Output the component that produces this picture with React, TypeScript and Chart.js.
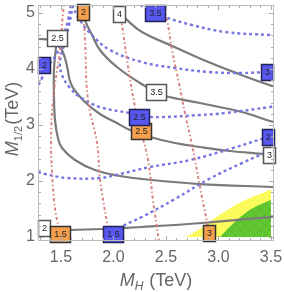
import React, { useEffect, useRef } from "react";
import { Chart, registerables } from "chart.js";
Chart.register(...registerables);

const X_MIN = 1.281, X_MAX = 3.529, Y_MIN = 0.929, Y_MAX = 5.143;

const xTickValues = [1.5, 2.0, 2.5, 3.0, 3.5];
const xTickLabels = ["1.5", "2.0", "2.5", "3.0", "3.5"];
const yTickValues = [1, 2, 3, 4, 5];
const yTickLabels = ["1", "2", "3", "4", "5"];

type P = [number, number];

// gray solid contours
const gray2: P[] = [[1.281, 1.14], [1.395, 1.125], [1.586, 1.125], [1.9, 1.143], [2.271, 1.179], [2.843, 1.25], [3.49, 1.357], [3.529, 1.366]];
const gray25: P[] = [[1.462, 4.554], [1.452, 4.393], [1.433, 3.982], [1.433, 3.536], [1.443, 3.089], [1.471, 2.768], [1.51, 2.589], [1.633, 2.375], [1.824, 2.196], [2.062, 2.089], [2.271, 2.036], [2.824, 1.946], [3.51, 1.893], [3.529, 1.89]];
const gray3: P[] = [[1.281, 4.536], [1.395, 4.518], [1.471, 4.446], [1.519, 4.3], [1.557, 4.054], [1.6, 3.714], [1.729, 3.411], [1.871, 3.196], [2.014, 3.054], [2.157, 2.911], [2.348, 2.786], [2.586, 2.679], [2.824, 2.607], [3.11, 2.536], [3.443, 2.482], [3.529, 2.464]];
const gray35: P[] = [[1.7, 5.143], [1.729, 4.875], [1.795, 4.61], [1.871, 4.34], [2.033, 4.036], [2.252, 3.75], [2.405, 3.59], [2.49, 3.518], [2.824, 3.393], [3.224, 3.232], [3.49, 3.071], [3.529, 3.054]];
const gray4: P[] = [[1.995, 5.143], [2.05, 5.02], [2.12, 4.89], [2.271, 4.66], [2.586, 4.39], [2.91, 4.12], [3.224, 3.89], [3.49, 3.71], [3.529, 3.69]];

// red dash-dot contours
const red15: P[] = [[1.529, 5.143], [1.519, 5.0], [1.49, 4.339], [1.424, 3.446], [1.405, 2.679], [1.414, 2.196], [1.433, 1.661], [1.462, 1.304], [1.481, 1.161], [1.5, 0.929]];
const red2: P[] = [[1.71, 5.143], [1.729, 4.518], [1.757, 3.446], [1.843, 2.679], [1.871, 2.036], [1.938, 1.25], [1.967, 0.929]];
const red25: P[] = [[2.043, 5.143], [2.081, 4.786], [2.129, 4.161], [2.205, 3.321], [2.262, 2.893], [2.329, 2.375], [2.376, 1.661], [2.433, 0.929]];
const red3: P[] = [[2.462, 5.143], [2.51, 4.875], [2.557, 4.339], [2.624, 3.75], [2.681, 3.214], [2.748, 2.643], [2.824, 1.893], [2.89, 1.268], [2.919, 0.929]];

// blue dotted contours
const blue2a: P[] = [[1.595, 5.143], [1.567, 4.875], [1.519, 4.571], [1.452, 4.25], [1.376, 4.054], [1.319, 3.839], [1.281, 3.696]];
const blue2b: P[] = [[1.281, 2.161], [1.348, 2.125], [1.557, 2.054], [1.871, 2.054], [2.062, 2.125], [2.348, 2.25], [2.729, 2.375], [3.138, 2.589], [3.443, 2.768], [3.529, 2.804]];
const blue25: P[] = [[1.614, 5.143], [1.576, 4.786], [1.529, 4.429], [1.49, 4.125], [1.51, 3.893], [1.586, 3.661], [1.681, 3.5], [1.871, 3.321], [2.157, 3.214], [2.348, 3.143], [2.824, 3.179], [3.062, 3.214], [3.49, 3.321], [3.529, 3.339]];
const blue3: P[] = [[1.605, 5.143], [1.662, 4.929], [1.776, 4.643], [1.967, 4.339], [2.271, 4.125], [2.586, 4.018], [2.91, 3.946], [3.224, 3.929], [3.462, 3.946], [3.529, 3.946]];
const blue35: P[] = [[2.252, 5.143], [2.395, 5.018], [2.49, 4.929], [2.748, 4.786], [3.062, 4.661], [3.49, 4.607], [3.529, 4.607]];
const blue15: P[] = [[1.919, 0.929], [1.995, 1.054], [2.09, 1.196], [2.271, 1.357], [2.586, 1.679], [2.91, 2.036], [3.224, 2.321], [3.529, 2.571]];

// shaded regions (upper edges, filled down to M1/2 = 1)
const yellowEdge: P[] = [[2.69, 1.0], [2.83, 1.15], [2.99, 1.37], [3.23, 1.64], [3.5, 1.85]];
const greenEdge: P[] = [[3.014, 1.0], [3.176, 1.304], [3.329, 1.518], [3.5, 1.661]];

// contour labels
type L = { x: number; y: number; t: string };
const grayLabels: L[] = [
  { x: 1.338, y: 1.16, t: "2" },
  { x: 1.462, y: 4.554, t: "2.5" },
  { x: 2.057, y: 4.99, t: "4" },
  { x: 2.405, y: 3.589, t: "3.5" },
  { x: 3.481, y: 2.464, t: "3" },
];
const redLabels: L[] = [
  { x: 1.71, y: 5.018, t: "2" },
  { x: 2.262, y: 2.893, t: "2.5" },
  { x: 1.49, y: 1.054, t: "1.5" },
  { x: 2.91, y: 1.071, t: "3" },
];
const blueLabels: L[] = [
  { x: 1.338, y: 4.071, t: "2" },
  { x: 2.395, y: 5.0, t: "3.5" },
  { x: 2.243, y: 3.143, t: "2.5" },
  { x: 3.462, y: 3.946, t: "3" },
  { x: 3.471, y: 2.786, t: "2" },
  { x: 1.995, y: 1.054, t: "1.5" },
];

const FONT = '"Liberation Sans", Arial, sans-serif';

function makeHatch(): CanvasPattern | string {
  const c = document.createElement("canvas");
  c.width = 10; c.height = 10;
  const g = c.getContext("2d");
  if (!g) return "#62c832";
  g.fillStyle = "#62c832";
  g.fillRect(0, 0, 10, 10);
  g.strokeStyle = "rgba(60,150,30,0.35)";
  g.lineWidth = 0.7;
  g.beginPath();
  g.moveTo(0, 0); g.lineTo(10, 10);
  g.moveTo(10, 0); g.lineTo(0, 10);
  g.stroke();
  return g.createPattern(c, "repeat") || "#62c832";
}

const toXY = (d: P[]) => d.map(([x, y]) => ({ x, y }));

function lineDs(d: P[], color: string, width: number, dash: number[], order: number) {
  return {
    data: toXY(d),
    showLine: true,
    borderColor: color,
    borderWidth: width,
    borderDash: dash,
    borderCapStyle: "butt",
    pointRadius: 0,
    tension: 0.4,
    fill: false,
    order,
  } as any;
}

const decorPlugin = {
  id: "decor",
  afterDatasetsDraw(chart: any) {
    const ctx: CanvasRenderingContext2D = chart.ctx;
    const xs = chart.scales.x, ys = chart.scales.y;
    const box = (l: L, fill: string, stroke: string) => {
      const px = xs.getPixelForValue(l.x), py = ys.getPixelForValue(l.y);
      ctx.save();
      ctx.font = `9px ${FONT}`;
      const tw = ctx.measureText(l.t).width;
      const w = Math.round(tw + 7), h = 16;
      const x0 = Math.round(px - w / 2) + 0.5, y0 = Math.round(py - h / 2) + 0.5;
      ctx.fillStyle = fill;
      ctx.fillRect(x0, y0, w, h);
      ctx.strokeStyle = stroke;
      ctx.lineWidth = 1.5;
      ctx.strokeRect(x0, y0, w, h);
      ctx.fillStyle = "#222";
      ctx.textAlign = "center";
      ctx.textBaseline = "middle";
      ctx.fillText(l.t, x0 + w / 2, y0 + h / 2 + 0.5);
      ctx.restore();
    };
    grayLabels.forEach((l) => box(l, "#ffffff", "#555555"));
    redLabels.forEach((l) => box(l, "#f5a04f", "#333333"));
    blueLabels.forEach((l) => box(l, "#5858f0", "#222255"));
  },
  afterDraw(chart: any) {
    const ctx: CanvasRenderingContext2D = chart.ctx;
    const a = chart.chartArea;
    const xs = chart.scales.x, ys = chart.scales.y;
    ctx.save();
    ctx.strokeStyle = "#aaaaaa";
    ctx.lineWidth = 1;
    ctx.beginPath();
    for (let i = 13; i <= 35; i++) {
      const v = i / 10;
      const px = Math.round(xs.getPixelForValue(v)) + 0.5;
      const len = i % 5 === 0 ? 5 : 3;
      ctx.moveTo(px, a.bottom); ctx.lineTo(px, a.bottom - len);
      ctx.moveTo(px, a.top); ctx.lineTo(px, a.top + len);
    }
    for (let i = 5; i <= 25; i++) {
      const v = i / 5;
      const py = Math.round(ys.getPixelForValue(v)) + 0.5;
      const len = i % 5 === 0 ? 5 : 3;
      ctx.moveTo(a.left, py); ctx.lineTo(a.left + len, py);
      ctx.moveTo(a.right, py); ctx.lineTo(a.right - len, py);
    }
    ctx.stroke();
    ctx.strokeStyle = "#bbbbbb";
    ctx.strokeRect(Math.round(a.left) + 0.5, Math.round(a.top) + 0.5, Math.round(a.right - a.left) - 1, Math.round(a.bottom - a.top) - 1);
    ctx.fillStyle = "#666666";
    ctx.font = `16px ${FONT}`;
    ctx.textAlign = "center";
    ctx.textBaseline = "alphabetic";
    xTickValues.forEach((v, i) => ctx.fillText(xTickLabels[i], xs.getPixelForValue(v), 262));
    ctx.textAlign = "right";
    ctx.textBaseline = "middle";
    yTickValues.forEach((v, i) => ctx.fillText(yTickLabels[i], 35, ys.getPixelForValue(v)));
    const drawTitle = (cx: number, cy: number, sub: string, space: string) => {
      ctx.textAlign = "left";
      ctx.textBaseline = "alphabetic";
      const fM = `italic 18px ${FONT}`;
      const fS = sub === "H" ? `italic 12px ${FONT}` : `11px ${FONT}`;
      const fR = `18px ${FONT}`;
      ctx.font = fM; const wM = ctx.measureText("M").width;
      ctx.font = fS; const wS = ctx.measureText(sub).width;
      ctx.font = fR; const rest = space + "(TeV)"; const wR = ctx.measureText(rest).width;
      const total = wM + wS + 1 + wR;
      let x = cx - total / 2;
      ctx.font = fM; ctx.fillText("M", x, cy); x += wM;
      ctx.font = fS; ctx.fillText(sub, x, cy + 4); x += wS + 1;
      ctx.font = fR; ctx.fillText(rest, x, cy);
    };
    drawTitle((a.left + a.right) / 2, 286, "H", " ");
    ctx.save();
    ctx.translate(18, 119);
    ctx.rotate(-Math.PI / 2);
    drawTitle(0, 0, "1/2", "");
    ctx.restore();
    ctx.restore();
  },
};

export default function App() {
  const ref = useRef<HTMLCanvasElement>(null);
  useEffect(() => {
    if (!ref.current) return;
    const hatch = makeHatch();
    const GRAY = "#7a7a7a", BLUE = "#7676e2", RED = "#d98383";
    const BD = [3, 3];
    const RD = [1.5, 2.5, 3, 2.5];
    const datasets: any[] = [
      { data: toXY(yellowEdge), showLine: true, borderWidth: 0, borderColor: "rgba(0,0,0,0)", backgroundColor: "#fbfb5c", pointRadius: 0, tension: 0.3, fill: { value: 1 }, order: 20 },
      { data: toXY(greenEdge), showLine: true, borderWidth: 0, borderColor: "rgba(0,0,0,0)", backgroundColor: hatch, pointRadius: 0, tension: 0.3, fill: { value: 1 }, order: 19 },
      lineDs(gray2, GRAY, 2.2, [], 5),
      lineDs(gray25, GRAY, 2.2, [], 5),
      lineDs(gray3, GRAY, 2.2, [], 5),
      lineDs(gray35, GRAY, 2.2, [], 5),
      lineDs(gray4, GRAY, 2.2, [], 5),
      lineDs(blue2a, BLUE, 2.4, BD, 3),
      lineDs(blue2b, BLUE, 2.4, BD, 3),
      lineDs(blue25, BLUE, 2.4, BD, 3),
      lineDs(blue3, BLUE, 2.4, BD, 3),
      lineDs(blue35, BLUE, 2.4, BD, 3),
      lineDs(blue15, BLUE, 2.4, BD, 3),
      lineDs(red15, RED, 2, RD, 1),
      lineDs(red2, RED, 2, RD, 1),
      lineDs(red25, RED, 2, RD, 1),
      lineDs(red3, RED, 2, RD, 1),
    ];
    const chart = new Chart(ref.current, {
      type: "scatter",
      data: { datasets },
      options: {
        animation: false,
        responsive: false,
        maintainAspectRatio: false,
        layout: { padding: { left: 38, top: 5, right: 10, bottom: 51 } },
        plugins: { legend: { display: false }, tooltip: { enabled: false } },
        scales: {
          x: { type: "linear", min: X_MIN, max: X_MAX, display: false },
          y: { type: "linear", min: Y_MIN, max: Y_MAX, display: false },
        },
      },
      plugins: [decorPlugin],
    } as any);
    return () => chart.destroy();
  }, []);
  return (
    <div style={{ position: "absolute", left: 0, top: 0, width: 284, height: 292, background: "#fff" }}>
      <canvas ref={ref} width={284} height={292} style={{ display: "block", width: 284, height: 292 }} />
    </div>
  );
}
